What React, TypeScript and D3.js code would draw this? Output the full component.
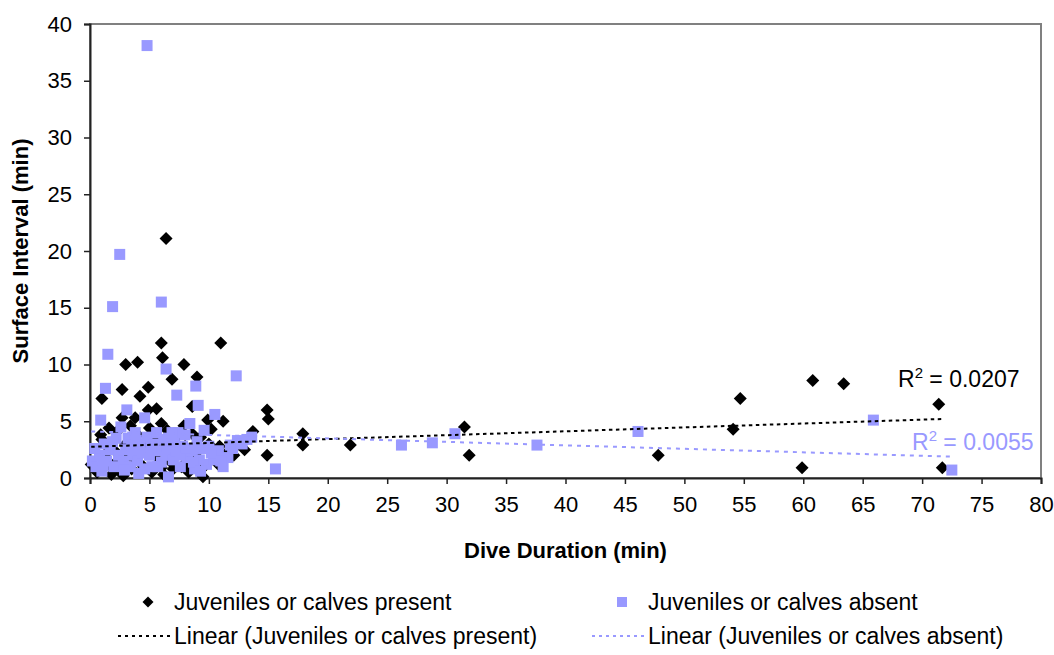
import { useEffect, useRef } from "react";
import * as d3 from "d3";

const W = 1054;
const H = 655;
const FONT = "'Liberation Sans', Arial, sans-serif";

const X_TICKS = [0, 5, 10, 15, 20, 25, 30, 35, 40, 45, 50, 55, 60, 65, 70, 75, 80];
const Y_TICKS = [0, 5, 10, 15, 20, 25, 30, 35, 40];

// Juveniles or calves present: [dive duration, surface interval]
const PRESENT: [number, number][] = [
  [6.4, 21.1], [6.0, 11.9], [11.0, 11.9], [6.1, 10.6], [3.0, 10.0], [4.0, 10.2],
  [7.9, 10.0], [6.9, 8.7], [9.0, 8.9], [2.7, 7.8], [4.9, 8.0], [4.2, 7.2],
  [1.0, 7.0], [8.6, 6.3], [4.9, 6.0], [5.6, 6.1], [2.7, 5.3], [3.8, 5.3],
  [6.0, 4.8], [11.2, 5.0], [9.9, 5.1], [14.9, 6.0], [15.0, 5.2], [14.9, 2.0],
  [13.7, 4.1], [12.1, 2.0], [9.5, 0.1], [17.9, 3.9], [17.9, 2.9], [21.9, 2.9],
  [31.5, 4.5], [31.9, 2.0], [47.8, 2.0], [54.1, 4.3], [54.7, 7.0], [60.8, 8.6],
  [63.4, 8.3], [59.9, 0.9], [71.4, 6.5], [71.7, 0.9],
  // dense low cluster
  [0.1, 1.2], [0.3, 1.0], [0.6, 0.5], [0.9, 3.8], [1.0, 3.4], [1.2, 2.0], [1.5, 1.2],
  [1.8, 0.3], [2.0, 2.5], [2.2, 4.0], [2.5, 0.6], [2.6, 1.5], [2.8, 0.2], [3.0, 3.0],
  [3.3, 2.0], [3.5, 0.8], [3.8, 1.6], [4.0, 3.8], [4.3, 2.4], [4.5, 1.0], [5.0, 4.4],
  [5.2, 0.5], [5.5, 2.0], [5.7, 3.2], [5.9, 1.2], [6.2, 0.3], [6.3, 2.6], [6.5, 4.2],
  [6.7, 1.5], [7.0, 0.8], [7.2, 3.5], [7.4, 2.1], [7.7, 1.0], [8.0, 2.8], [8.3, 0.5],
  [8.6, 3.9], [8.8, 1.8], [9.2, 2.5], [9.6, 1.0], [10.0, 3.0], [10.3, 2.0], [10.8, 1.2],
  [11.5, 2.2], [12.5, 3.0], [13.0, 2.5], [1.6, 4.4], [3.4, 4.6], [5.3, 3.5], [6.0, 0.9],
  [7.9, 4.6], [9.3, 3.6], [10.2, 4.3], [10.9, 2.8], [2.1, 1.3], [4.6, 2.9], [8.1, 1.3],
];

// Juveniles or calves absent
const ABSENT: [number, number][] = [
  [4.8, 38.1], [2.5, 19.7], [1.9, 15.1], [6.0, 15.5], [1.5, 10.9], [6.4, 9.6],
  [1.3, 7.9], [7.3, 7.3], [3.1, 6.0], [0.9, 5.1], [4.6, 5.3], [12.3, 9.0],
  [8.9, 8.1], [9.1, 6.4], [10.5, 5.6], [15.6, 0.8], [26.2, 2.9], [28.8, 3.1],
  [30.7, 3.9], [37.6, 2.9], [46.1, 4.1], [65.9, 5.1], [72.5, 0.7],
  // dense low cluster
  [0.2, 1.5], [0.5, 1.0], [0.8, 2.0], [1.0, 0.6], [1.2, 3.0], [1.4, 1.5], [1.7, 2.5],
  [2.0, 1.0], [2.2, 3.5], [2.4, 2.0], [2.6, 4.5], [2.8, 1.5], [3.0, 2.5], [3.2, 3.5],
  [3.4, 1.0], [3.6, 2.0], [3.8, 4.0], [4.0, 1.5], [4.2, 3.0], [4.4, 2.2], [4.6, 0.8],
  [4.8, 3.6], [5.0, 2.0], [5.2, 1.0], [5.4, 3.0], [5.6, 4.0], [5.8, 2.4], [6.0, 1.4],
  [6.2, 3.4], [6.4, 2.0], [6.6, 0.1], [6.8, 3.0], [7.0, 1.6], [7.2, 2.4], [7.4, 4.0],
  [7.6, 1.0], [7.8, 2.8], [8.0, 3.8], [8.2, 1.8], [8.4, 4.8], [8.6, 2.4], [8.8, 0.8],
  [9.0, 3.2], [9.2, 1.6], [9.4, 2.6], [9.6, 4.2], [9.8, 1.2], [10.0, 2.8], [10.4, 1.6],
  [10.8, 2.4], [11.2, 1.0], [11.6, 1.8], [12.0, 2.6], [12.4, 3.3], [12.8, 3.0],
  [13.2, 3.4], [13.6, 3.6], [0.4, 2.6], [1.1, 1.1], [1.9, 3.2], [2.9, 0.7], [3.5, 2.9],
  [4.1, 0.4], [5.1, 2.7], [5.7, 1.0], [6.5, 2.7], [7.1, 3.2], [7.6, 2.0], [8.1, 2.6],
  [8.7, 1.4], [9.3, 0.6], [10.2, 2.2], [11.0, 1.5], [11.8, 2.9], [3.9, 3.3], [6.9, 4.0],
];

// trend line endpoints
const TREND_PRESENT: [number, number][] = [[0.1, 2.75], [71.7, 5.2]];
const TREND_ABSENT: [number, number][] = [[0.1, 4.1], [72.5, 1.88]];

const R2_PRESENT = "0.0207";
const R2_ABSENT = "0.0055";

const LEGEND_ITEMS = [
  "Juveniles or calves present",
  "Juveniles or calves absent",
  "Linear (Juveniles or calves present)",
  "Linear (Juveniles or calves absent)",
];

const BLUE = "#9999ff";

const diamond = (r: number) => `M0,${-r}L${r},0L0,${r}L${-r},0Z`;

export default function App() {
  const svgRef = useRef<SVGSVGElement>(null);

  useEffect(() => {
    if (!svgRef.current) return;
    const svg = d3.select(svgRef.current);
    svg.selectAll("*").remove();

    const margin = { top: 24, right: 13, bottom: 177, left: 90 };
    const innerW = W - margin.left - margin.right;
    const innerH = H - margin.top - margin.bottom;

    const x = d3.scaleLinear().domain([0, 80]).range([0, innerW]);
    const y = d3.scaleLinear().domain([0, 40]).range([innerH, 0]);

    const g = svg
      .append("g")
      .attr("transform", `translate(${margin.left},${margin.top})`);

    // plot area frame
    g.append("rect")
      .attr("width", innerW)
      .attr("height", innerH)
      .attr("fill", "none")
      .attr("stroke", "#808080")
      .attr("stroke-width", 2);

    // X axis
    g.append("g")
      .attr("transform", `translate(0,${innerH})`)
      .call(d3.axisBottom(x).tickValues(X_TICKS).tickSize(6).tickPadding(12))
      .call((axis) => {
        axis.select(".domain").attr("stroke", "#222").attr("stroke-width", 2);
        axis.selectAll("line").attr("stroke", "#222").attr("stroke-width", 1.5);
        axis
          .selectAll("text")
          .attr("fill", "#000")
          .attr("font-size", "22px")
          .attr("font-family", FONT);
      });

    // Y axis
    g.append("g")
      .call(d3.axisLeft(y).tickValues(Y_TICKS).tickSize(6).tickPadding(12))
      .call((axis) => {
        axis.select(".domain").attr("stroke", "#222").attr("stroke-width", 2);
        axis.selectAll("line").attr("stroke", "#222").attr("stroke-width", 1.5);
        axis
          .selectAll("text")
          .attr("fill", "#000")
          .attr("font-size", "22px")
          .attr("font-family", FONT);
      });

    // markers: present first, absent drawn on top
    g.append("g")
      .selectAll("path")
      .data(PRESENT)
      .join("path")
      .attr("d", diamond(6.5))
      .attr("transform", (d) => `translate(${x(d[0])},${y(d[1])})`)
      .attr("fill", "#000");

    g.append("g")
      .selectAll("rect")
      .data(ABSENT)
      .join("rect")
      .attr("x", (d) => x(d[0]) - 5.5)
      .attr("y", (d) => y(d[1]) - 5.5)
      .attr("width", 11)
      .attr("height", 11)
      .attr("fill", BLUE);

    // trend lines
    const line = d3
      .line<[number, number]>()
      .x((d) => x(d[0]))
      .y((d) => y(d[1]));

    g.append("path")
      .attr("d", line(TREND_PRESENT))
      .attr("fill", "none")
      .attr("stroke", "#000")
      .attr("stroke-width", 2)
      .attr("stroke-dasharray", "3.5,3.5");

    g.append("path")
      .attr("d", line(TREND_ABSENT))
      .attr("fill", "none")
      .attr("stroke", BLUE)
      .attr("stroke-width", 2)
      .attr("stroke-dasharray", "4,5");

    // R² labels
    const r2 = (tx: number, ty: number, val: string, color: string) => {
      const t = g
        .append("text")
        .attr("x", tx - margin.left)
        .attr("y", ty - margin.top)
        .attr("fill", color)
        .attr("font-size", "23px")
        .attr("font-family", FONT);
      t.append("tspan").text("R");
      t.append("tspan").attr("font-size", "15px").attr("dy", -9).text("2");
      t.append("tspan").attr("dy", 9).text(` = ${val}`);
    };
    r2(898, 387, R2_PRESENT, "#000");
    r2(912, 450, R2_ABSENT, BLUE);

    // axis titles
    svg
      .append("text")
      .attr("x", margin.left + innerW / 2)
      .attr("y", 558)
      .attr("text-anchor", "middle")
      .attr("font-size", "22px")
      .attr("font-weight", "bold")
      .attr("font-family", FONT)
      .text("Dive Duration (min)");

    svg
      .append("text")
      .attr("transform", `translate(28,${margin.top + innerH / 2}) rotate(-90)`)
      .attr("text-anchor", "middle")
      .attr("font-size", "22px")
      .attr("font-weight", "bold")
      .attr("font-family", FONT)
      .text("Surface Interval (min)");

    // legend
    const leg = svg.append("g").attr("font-family", FONT).attr("font-size", "23px");
    const row1 = 602;
    const row2 = 636;
    leg.append("path").attr("d", diamond(5.5)).attr("transform", `translate(148,${row1})`);
    leg.append("rect").attr("x", 617).attr("y", row1 - 5).attr("width", 10).attr("height", 10).attr("fill", BLUE);
    leg.append("line").attr("x1", 118).attr("x2", 171).attr("y1", row2).attr("y2", row2)
      .attr("stroke", "#000").attr("stroke-width", 2).attr("stroke-dasharray", "3,4");
    leg.append("line").attr("x1", 592).attr("x2", 645).attr("y1", row2).attr("y2", row2)
      .attr("stroke", BLUE).attr("stroke-width", 2).attr("stroke-dasharray", "3,4");
    const pos = [
      [174, row1],
      [648, row1],
      [174, row2],
      [648, row2],
    ];
    LEGEND_ITEMS.forEach((label, i) => {
      leg.append("text")
        .attr("x", pos[i][0])
        .attr("y", pos[i][1])
        .attr("dy", "0.35em")
        .text(label);
    });
  }, []);

  return (
    <div style={{ position: "absolute", left: 0, top: 0, background: "#fff" }}>
      <svg ref={svgRef} width={W} height={H} display="block" />
    </div>
  );
}
